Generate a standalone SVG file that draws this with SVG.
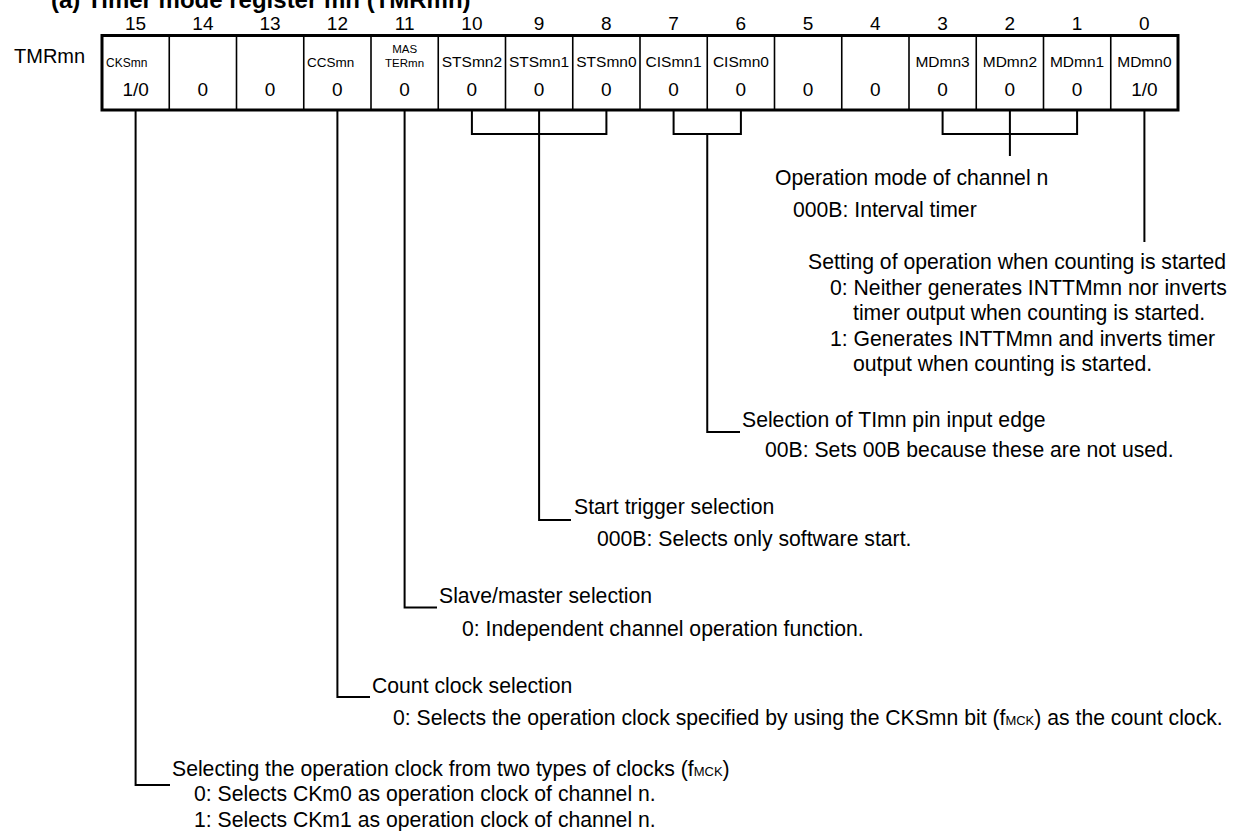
<svg xmlns="http://www.w3.org/2000/svg" width="1235" height="831" viewBox="0 0 1235 831">
<style>
text{font-family:"Liberation Sans",Arial,Helvetica,sans-serif;fill:#000}
.title{font-size:24px;font-weight:bold}
.bitno{font-size:19px;text-anchor:middle}
.reg{font-size:20px}
.lbl{font-size:15.5px;text-anchor:middle}
.sm{font-size:12px}
.val{font-size:19px;text-anchor:middle}
.desc{font-size:21.2px}
.sub{font-size:13px}
.outer{fill:none;stroke:#000;stroke-width:3}
.div{stroke:#000;stroke-width:1.6;fill:none}
.con{stroke:#000;stroke-width:2;fill:none}
</style>
<rect width="1235" height="831" fill="#fff"/>
<text class="title" x="51" y="8">(a)  Timer mode register mn (TMRmn)</text>
<g id="bitnumbers">
<text class="bitno" x="135.6" y="30">15</text>
<text class="bitno" x="202.9" y="30">14</text>
<text class="bitno" x="270.1" y="30">13</text>
<text class="bitno" x="337.4" y="30">12</text>
<text class="bitno" x="404.6" y="30">11</text>
<text class="bitno" x="471.9" y="30">10</text>
<text class="bitno" x="539.1" y="30">9</text>
<text class="bitno" x="606.4" y="30">8</text>
<text class="bitno" x="673.6" y="30">7</text>
<text class="bitno" x="740.9" y="30">6</text>
<text class="bitno" x="808.1" y="30">5</text>
<text class="bitno" x="875.4" y="30">4</text>
<text class="bitno" x="942.6" y="30">3</text>
<text class="bitno" x="1009.9" y="30">2</text>
<text class="bitno" x="1077.1" y="30">1</text>
<text class="bitno" x="1144.4" y="30">0</text>
</g>
<g id="register">
<text class="reg" x="14" y="63">TMRmn</text>
<rect class="outer" x="102" y="35.5" width="1076" height="74.5"/>
<path class="div" d="M169.25 35.5V110M236.5 35.5V110M303.75 35.5V110M371 35.5V110M438.25 35.5V110M505.5 35.5V110M572.75 35.5V110M640 35.5V110M707.25 35.5V110M774.5 35.5V110M841.75 35.5V110M909 35.5V110M976.25 35.5V110M1043.5 35.5V110M1110.75 35.5V110"/>
<text class="sm" x="106" y="67">CKSmn</text>
<text class="sm" x="307" y="67" style="font-size:13.5px">CCSmn</text>
<text class="sm" x="404.6" y="53" text-anchor="middle" style="font-size:11.5px">MAS</text>
<text class="sm" x="404.6" y="67" text-anchor="middle" style="font-size:11.5px">TERmn</text>
<text class="lbl" x="471.9" y="67">STSmn2</text>
<text class="lbl" x="539.1" y="67">STSmn1</text>
<text class="lbl" x="606.4" y="67">STSmn0</text>
<text class="lbl" x="673.6" y="67">CISmn1</text>
<text class="lbl" x="740.9" y="67">CISmn0</text>
<text class="lbl" x="942.6" y="67">MDmn3</text>
<text class="lbl" x="1009.9" y="67">MDmn2</text>
<text class="lbl" x="1077.1" y="67">MDmn1</text>
<text class="lbl" x="1144.4" y="67">MDmn0</text>
<text class="val" x="135.6" y="96">1/0</text>
<text class="val" x="202.9" y="96">0</text>
<text class="val" x="270.1" y="96">0</text>
<text class="val" x="337.4" y="96">0</text>
<text class="val" x="404.6" y="96">0</text>
<text class="val" x="471.9" y="96">0</text>
<text class="val" x="539.1" y="96">0</text>
<text class="val" x="606.4" y="96">0</text>
<text class="val" x="673.6" y="96">0</text>
<text class="val" x="740.9" y="96">0</text>
<text class="val" x="808.1" y="96">0</text>
<text class="val" x="875.4" y="96">0</text>
<text class="val" x="942.6" y="96">0</text>
<text class="val" x="1009.9" y="96">0</text>
<text class="val" x="1077.1" y="96">0</text>
<text class="val" x="1144.4" y="96">1/0</text>
</g>
<g id="connectors">
<path class="con" d="M135.6 111V785H170"/>
<path class="con" d="M337.4 111V697H370"/>
<path class="con" d="M404.6 111V607.5H437"/>
<path class="con" d="M471.9 111V134H606.4V111M539.1 111V520H571"/>
<path class="con" d="M673.6 111V134H740.9V111M707.25 134V432H740"/>
<path class="con" d="M942.6 111V134H1077.1V111M1009.9 111V156"/>
<path class="con" d="M1144.4 111V242"/>
</g>
<g id="md">
<text class="desc" x="775" y="185">Operation mode of channel n</text>
<text class="desc" x="793" y="217">000B: Interval timer</text>
</g>
<g id="start-op">
<text class="desc" x="808" y="269">Setting of operation when counting is started</text>
<text class="desc" x="830" y="295">0: Neither generates INTTMmn nor inverts</text>
<text class="desc" x="853" y="320">timer output when counting is started.</text>
<text class="desc" x="830" y="346">1: Generates INTTMmn and inverts timer</text>
<text class="desc" x="853" y="371">output when counting is started.</text>
</g>
<g id="cis">
<text class="desc" x="742" y="427">Selection of TImn pin input edge</text>
<text class="desc" x="765" y="457">00B: Sets 00B because these are not used.</text>
</g>
<g id="sts">
<text class="desc" x="574" y="514">Start trigger selection</text>
<text class="desc" x="597" y="546">000B: Selects only software start.</text>
</g>
<g id="master">
<text class="desc" x="439" y="603">Slave/master selection</text>
<text class="desc" x="462" y="636">0: Independent channel operation function.</text>
</g>
<g id="ccs">
<text class="desc" x="372" y="693">Count clock selection</text>
<text class="desc" x="393" y="725">0: Selects the operation clock specified by using the CKSmn bit (f<tspan class="sub">MCK</tspan>) as the count clock.</text>
</g>
<g id="cks">
<text class="desc" x="172" y="776">Selecting the operation clock from two types of clocks (f<tspan class="sub">MCK</tspan>)</text>
<text class="desc" x="194" y="801">0: Selects CKm0 as operation clock of channel n.</text>
<text class="desc" x="194" y="827">1: Selects CKm1 as operation clock of channel n.</text>
</g>
</svg>
